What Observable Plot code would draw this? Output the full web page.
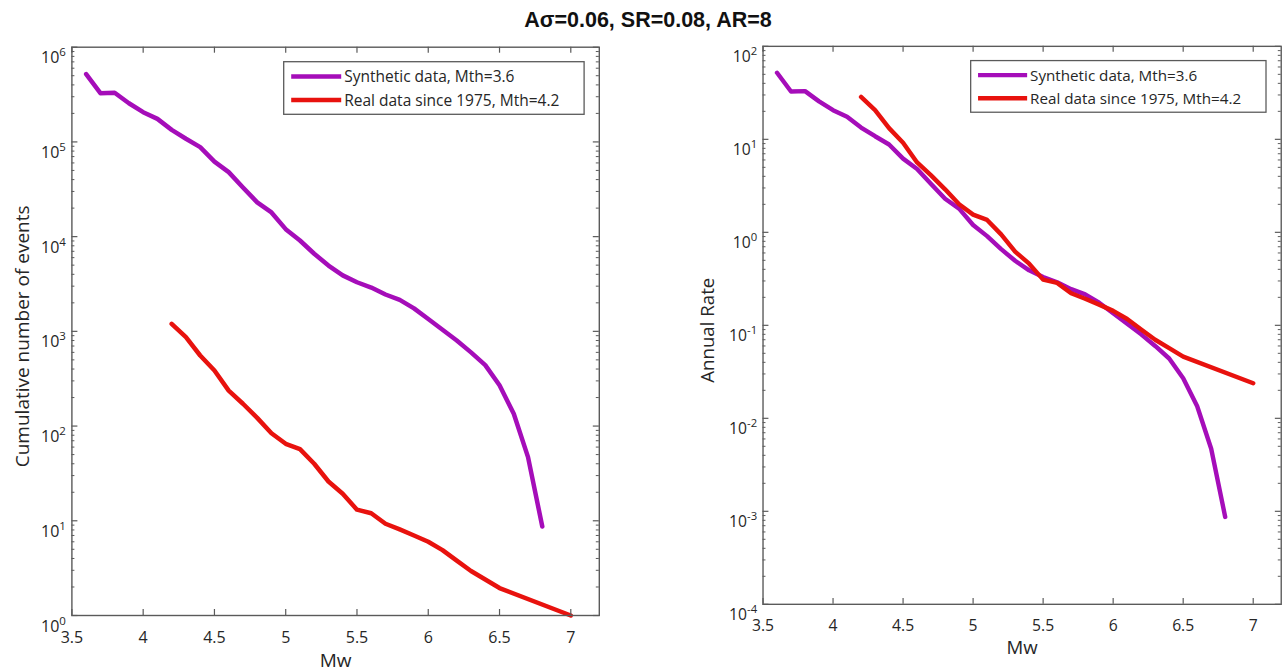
<!DOCTYPE html>
<html><head><meta charset="utf-8">
<script src="https://cdn.jsdelivr.net/npm/d3@7"></script>
<script src="https://cdn.jsdelivr.net/npm/@observablehq/plot@0.6"></script>
<style>
html,body{margin:0;padding:0;background:#fff;}
body{width:1288px;height:671px;overflow:hidden;position:relative;font-family:"Open Sans",sans-serif;}
#title{position:absolute;left:0;width:1296px;top:10px;text-align:center;font:bold 21.5px/1 "Liberation Sans",Arial,sans-serif;color:#111;z-index:2;white-space:nowrap;}
.panel{position:absolute;top:0;}
</style></head><body>
<div id="title">Aσ=0.06, SR=0.08, AR=8</div>
<div id="left" class="panel" style="left:0px"></div>
<div id="right" class="panel" style="left:640px"></div>
<script>
// ---- data ----
const magSynthetic = [3.6,3.7,3.8,3.9,4.0,4.1,4.2,4.3,4.4,4.5,4.6,4.7,4.8,4.9,5.0,5.1,5.2,5.3,5.4,5.5,5.6,5.7,5.8,5.9,6.0,6.1,6.2,6.3,6.4,6.5,6.6,6.7,6.8];
const countSynthetic = [5.2e5,3.27e5,3.3e5,2.56e5,2.06e5,1.75e5,1.34e5,1.08e5,8.8e4,6.2e4,4.8e4,3.3e4,2.3e4,1.8e4,1.2e4,9.1e3,6.6e3,4.95e3,3.9e3,3.3e3,2.9e3,2.45e3,2.15e3,1.75e3,1.35e3,1.04e3,800,600,440,270,135,47,8.7];
const rateSynthetic = [52,32.7,33,25.6,20.6,17.5,13.4,10.8,8.8,6.2,4.8,3.3,2.3,1.8,1.2,0.91,0.66,0.495,0.39,0.33,0.29,0.245,0.215,0.175,0.135,0.104,0.08,0.06,0.044,0.027,0.0135,0.0047,0.00087];
const magReal = [4.2,4.3,4.4,4.5,4.6,4.7,4.8,4.9,5.0,5.1,5.2,5.3,5.4,5.5,5.6,5.7,5.8,5.9,6.0,6.1,6.2,6.3,6.4,6.5,7.0];
const countReal = [1200,867,556,386,237,172,122,84,65,57,40,26,19.3,13.1,12,9.3,8.1,7.0,6.0,4.9,3.8,2.95,2.4,1.95,1.0];
const rateReal = [28.6,20.6,13.2,9.2,5.64,4.1,2.9,2.0,1.55,1.36,0.95,0.62,0.46,0.31,0.286,0.221,0.193,0.167,0.143,0.117,0.09,0.07,0.057,0.046,0.0238];
const seriesNames = ["Synthetic data, Mth=3.6","Real data since 1975, Mth=4.2"];
const seriesColors = ["#a50db9","#e8120e"];
const xTicks = [3.5,4,4.5,5,5.5,6,6.5,7];
const yTicksLeft = [1,10,100,1e3,1e4,1e5,1e6];
const yTicksRight = [1e-4,1e-3,1e-2,1e-1,1,10,100];
const xLabel = "Mw";
const yLabelLeft = "Cumulative number of events";
const yLabelRight = "Annual Rate";

// ---- layout ----
const H = 671, MT = 46.7, MB = 56;
const AXIS = "#5a5a5a", TEXT = "#262626";

function rows(ms, vs){ return ms.map((m,i)=>({m, v: vs[i]})); }

function panel({el, width, marginLeft, marginRight, yTicks, synth, real, ylabel, ylabelDx, legendBox}) {
  const innerW = width - marginLeft - marginRight, innerH = H - MT - MB;
  const minor = [];
  for (let i = 0; i < yTicks.length - 1; i++) for (let k = 2; k <= 9; k++) minor.push(k * yTicks[i]);
  const svg = Plot.plot({
    width, height: H, marginLeft, marginRight, marginTop: MT, marginBottom: MB,
    style: {fontFamily: '"Open Sans", sans-serif', fontSize: "15px", color: TEXT, background: "transparent", overflow: "visible"},
    x: {domain: [3.5, 7.2]},
    y: {type: "log", domain: [yTicks[0], yTicks[yTicks.length-1]]},
    marks: [
      Plot.line(synth, {x: "m", y: "v", stroke: seriesColors[0], strokeWidth: 4.5, strokeLinejoin: "round"}),
      Plot.line(real, {x: "m", y: "v", stroke: seriesColors[1], strokeWidth: 4.5, strokeLinejoin: "round"}),
      Plot.ruleX(xTicks, {x: d => d, insetTop: innerH - 6, stroke: AXIS, strokeWidth: 1.2}),
      Plot.ruleX(xTicks, {x: d => d, insetBottom: innerH - 6, stroke: AXIS, strokeWidth: 1.2}),
      Plot.ruleY(yTicks, {y: d => d, insetRight: innerW - 6, stroke: AXIS, strokeWidth: 1.2}),
      Plot.ruleY(yTicks, {y: d => d, insetLeft: innerW - 6, stroke: AXIS, strokeWidth: 1.2}),
      Plot.ruleY(minor, {y: d => d, insetRight: innerW - 3, stroke: AXIS, strokeWidth: 1}),
      Plot.ruleY(minor, {y: d => d, insetLeft: innerW - 3, stroke: AXIS, strokeWidth: 1}),
      Plot.frame({stroke: AXIS, strokeWidth: 1.4}),
      Plot.axisX({ticks: xTicks, tickSize: 0, tickPadding: 16, tickFormat: d => String(d), label: null, fontSize: 16}),
      Plot.axisY({ticks: yTicks, tickSize: 0, tickPadding: 6, tickFormat: d => String(Math.round(Math.log10(d))), label: null, fontSize: 16}),
      Plot.text([xLabel], {frameAnchor: "bottom", dy: 45, text: d => d, fontSize: 19, fill: TEXT, lineAnchor: "middle", textAnchor: "middle"}),
      Plot.text([ylabel], {frameAnchor: "left", dx: ylabelDx, dy: 5, rotate: -90, text: d => d, fontSize: 19, fill: TEXT, lineAnchor: "middle", textAnchor: "middle"})
    ]
  });
  // superscript exponents on log tick labels
  d3.select(svg).selectAll('g[aria-label="y-axis tick label"] text').each(function(){
    const e = this.textContent;
    const t = d3.select(this);
    t.text(null).attr("dy", null);
    t.append("tspan").attr("dy", 11).attr("font-size", 16).text("10");
    t.append("tspan").attr("dy", -7).attr("font-size", 11.5).text(e);
  });
  // legend
  const [lx, ly, lw, lh] = legendBox;
  const g = d3.select(svg).append("g").attr("font-family", '"Open Sans", sans-serif').attr("font-size", 15.5)
    .attr("fill", TEXT).attr("text-anchor", "start");
  g.append("rect").attr("x", lx).attr("y", ly).attr("width", lw).attr("height", lh)
    .attr("fill", "#fff").attr("stroke", AXIS).attr("stroke-width", 1.3);
  seriesNames.forEach((name, i) => {
    const cy = ly + 14.8 + i * 23.5;
    g.append("line").attr("x1", lx + 7.5).attr("x2", lx + 57.5).attr("y1", cy).attr("y2", cy)
      .attr("stroke", seriesColors[i]).attr("stroke-width", 4.5);
    g.append("text").attr("x", lx + 60.5).attr("y", cy).attr("dy", "0.36em").attr("text-anchor", "start").text(name);
  });
  document.getElementById(el).appendChild(svg);
}

panel({el: "left", width: 640, marginLeft: 71.4, marginRight: 41.2, yTicks: yTicksLeft,
  synth: rows(magSynthetic, countSynthetic), real: rows(magReal, countReal),
  ylabel: yLabelLeft, ylabelDx: -49, legendBox: [283.7, 61.7, 300.4, 52.6]});
panel({el: "right", width: 660, marginLeft: 124.8, marginRight: 7.4, yTicks: yTicksRight,
  synth: rows(magSynthetic, rateSynthetic), real: rows(magReal, rateReal),
  ylabel: yLabelRight, ylabelDx: -56, legendBox: [336.8, 61.7, 300.8, 52.6]});
</script>
</body></html>
